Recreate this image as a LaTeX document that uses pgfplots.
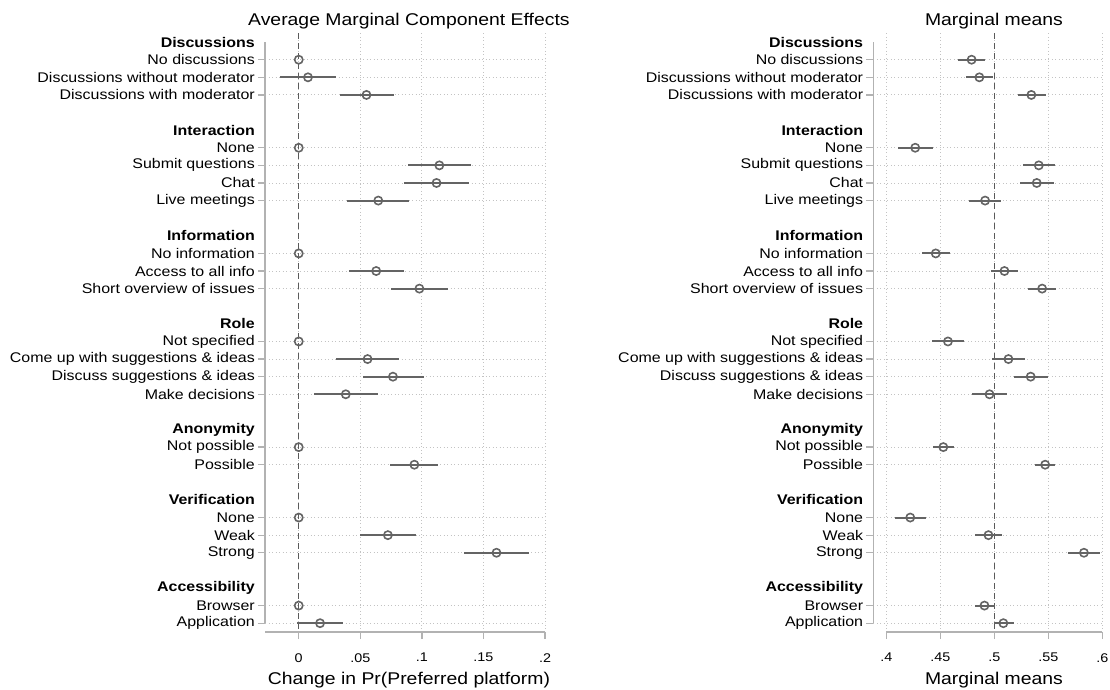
\documentclass[border=0pt]{standalone}
\usepackage{pgfplots}
\usepackage{pgfplotstable}
\pgfplotsset{compat=1.18}
\usepackage{fontspec}
\setmainfont{Liberation Sans}[FakeStretch=1.14]
\definecolor{cicol}{RGB}{100,100,100}
\definecolor{axcol}{RGB}{178,178,178}
\definecolor{gridcol}{RGB}{195,195,195}
\definecolor{dashcol}{RGB}{90,90,90}

\pgfplotstableread{
row est lo hi
1 0 0 0
2 0.0075 -0.0149 0.030
3 0.055 0.0335 0.077
6 0 0 0
7 0.1142 0.089 0.1397
8 0.1119 0.0858 0.1383
9 0.0646 0.0396 0.0898
12 0 0 0
13 0.0629 0.0411 0.0852
14 0.098 0.0753 0.1209
17 0 0 0
18 0.0559 0.0306 0.0811
19 0.0765 0.0521 0.1015
20 0.0382 0.0127 0.0643
23 0 0 0
24 0.0939 0.0745 0.1128
27 0 0 0
28 0.0724 0.0498 0.0954
29 0.1606 0.1345 0.187
32 0 0 0
33 0.0173 -0.0013 0.0362
}\amce

\pgfplotstableread{
row est lo hi
1 0.479 0.4665 0.4915
2 0.4862 0.4737 0.499
3 0.5343 0.5219 0.5478
6 0.4268 0.4112 0.4428
7 0.5412 0.5266 0.5566
8 0.5393 0.5237 0.5553
9 0.4915 0.4769 0.5065
12 0.4458 0.4331 0.4594
13 0.5094 0.4969 0.5219
14 0.5443 0.5312 0.5571
17 0.4571 0.4421 0.4721
18 0.5131 0.4978 0.5284
19 0.5337 0.5187 0.5494
20 0.4956 0.4796 0.5118
23 0.4528 0.4433 0.4628
24 0.5471 0.5375 0.5566
27 0.4222 0.4081 0.4365
28 0.4946 0.4821 0.5074
29 0.583 0.5684 0.5981
32 0.4909 0.4821 0.5003
33 0.5084 0.4994 0.5187
}\mm

\pgfplotsset{
  coefstyle/.style={
    scale only axis,
    anchor=south west,
    height=598.7pt,
    y dir=reverse,
    ymin=-0.5, ymax=33.5,
    clip=false,
    axis line style={draw=none},
    tick align=outside,
    xtick pos=lower, ytick pos=left,
    major tick length=7pt,
    every tick/.style={axcol, line width=1.3pt},
    xmajorgrids, ymajorgrids,
    major grid style={gridcol, line width=0.9pt, dash pattern=on 0.9pt off 2.6pt},
    ytick={1,2,3,6,7,8,9,12,13,14,17,18,19,20,23,24,27,28,29,32,33},
    yticklabels={No discussions, Discussions without moderator, Discussions with moderator, None, Submit questions, Chat, Live meetings, No information, Access to all info, Short overview of issues, Not specified, Come up with suggestions \& ideas, Discuss suggestions \& ideas, Make decisions, Not possible, Possible, None, Weak, Strong, Browser, Application},
    extra y ticks={0,5,11,16,22,26,31},
    extra y tick labels={\textbf{Discussions},\textbf{Interaction},\textbf{Information},\textbf{Role},\textbf{Anonymity},\textbf{Verification},\textbf{Accessibility}},
    extra y tick style={grid=none, major tick style={draw=none}},
    yticklabel style={font=\fontsize{14}{16}\selectfont, inner sep=0pt, anchor=east, xshift=-3pt},
    xticklabel style={font=\fontsize{12.6}{14}\selectfont, inner sep=0pt, anchor=north, yshift=-14pt},
    title style={font=\fontsize{17}{20}\selectfont, anchor=center, yshift=6.3pt},
    xlabel style={font=\fontsize{17}{20}\selectfont, anchor=center, yshift=-48pt},
  },
  ptstyle/.style={
    only marks, mark=o, mark size=4.1pt,
    mark options={draw=cicol, fill=white, line width=1.6pt},
    error bars/.cd, x dir=both, x explicit, error mark=none,
    error bar style={cicol, line width=2pt},
  },
}

\begin{document}
\begin{tikzpicture}
\useasboundingbox (0,0) rectangle (1110pt,690pt);
% Left panel: AMCE
\begin{axis}[coefstyle,
  at={(265pt,58pt)}, width=280pt,
  xmin=-0.0274, xmax=0.2,
  xtick={0,0.05,0.1,0.15,0.2},
  xticklabels={0,.05,.1,.15,.2},
  title={Average Marginal Component Effects},
  title style={at={(0.514,1)}},
  xlabel={Change in Pr(Preferred platform)},
  xlabel style={at={(0.514,0)}},
]
\addplot[dashcol, line width=1.4pt, dash pattern=on 6pt off 4pt, forget plot] coordinates {(0,-0.5) (0,33.5)};
\addplot[ptstyle] table[x=est, y=row,
  x error plus expr=\thisrow{hi}-\thisrow{est},
  x error minus expr=\thisrow{est}-\thisrow{lo}] {\amce};
\draw[axcol, line width=1.3pt] (axis cs:-0.0274,0) -- (axis cs:-0.0274,33);
\draw[axcol, line width=1.3pt] (axis cs:-0.0274,33.5) -- (axis cs:0.2,33.5);
\end{axis}
% Right panel: marginal means
\begin{axis}[coefstyle,
  at={(873.3pt,58pt)}, width=229pt,
  xmin=0.388, xmax=0.6,
  xtick={0.4,0.45,0.5,0.55,0.6},
  xticklabels={.4,.45,.5,.55,.6},
  title={Marginal means},
  title style={at={(0.527,1)}},
  xlabel={Marginal means},
  xlabel style={at={(0.527,0)}},
]
\addplot[dashcol, line width=1.4pt, dash pattern=on 6pt off 4pt, forget plot] coordinates {(0.5,-0.5) (0.5,33.5)};
\addplot[ptstyle] table[x=est, y=row,
  x error plus expr=\thisrow{hi}-\thisrow{est},
  x error minus expr=\thisrow{est}-\thisrow{lo}] {\mm};
\draw[axcol, line width=1.3pt] (axis cs:0.388,0) -- (axis cs:0.388,33);
\draw[axcol, line width=1.3pt] (axis cs:0.4,33.5) -- (axis cs:0.6,33.5);
\end{axis}
\end{tikzpicture}
\end{document}
